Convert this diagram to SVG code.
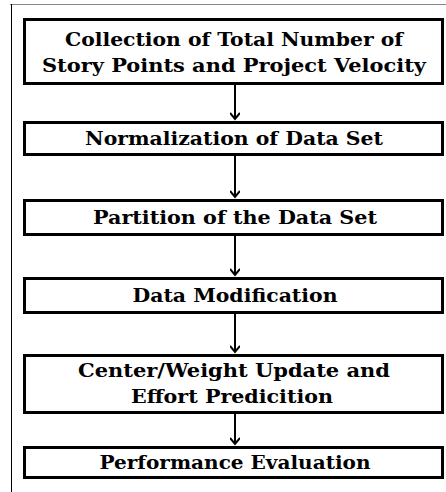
<svg xmlns="http://www.w3.org/2000/svg" width="446" height="492" viewBox="0 0 446 492">
<style>
.box{fill:#fff;stroke:#000;stroke-width:3}
.t{font-family:"DejaVu Serif","Liberation Serif",serif;font-weight:bold;font-size:18px;text-anchor:middle;fill:#000}
.c{stroke:#000;stroke-width:2;fill:none}
</style>
<defs>
<marker id="ah" markerWidth="10" markerHeight="10" refX="7" refY="5" orient="auto" markerUnits="userSpaceOnUse">
<path d="M1,0 L7,5 L1,10" fill="none" stroke="#000" stroke-width="2"/>
</marker>
</defs>
<rect width="446" height="492" fill="#fff"/>
<line x1="10" y1="4.5" x2="446" y2="4.5" stroke="#888" stroke-width="1"/>
<line x1="11.5" y1="4" x2="11.5" y2="492" stroke="#000" stroke-width="1"/>
<g id="connectors">
<line class="c" x1="235" y1="84" x2="235" y2="119" marker-end="url(#ah)"/>
<line class="c" x1="235" y1="155" x2="235" y2="197" marker-end="url(#ah)"/>
<line class="c" x1="235" y1="235" x2="235" y2="275" marker-end="url(#ah)"/>
<line class="c" x1="235" y1="313" x2="235" y2="352" marker-end="url(#ah)"/>
<line class="c" x1="235" y1="413" x2="235" y2="444" marker-end="url(#ah)"/>
</g>
<g id="n1"><rect class="box" x="24.5" y="19.5" width="418" height="64"/>
<text class="t" x="234" y="46" textLength="338" lengthAdjust="spacingAndGlyphs">Collection of Total Number of</text>
<text class="t" x="234" y="72" textLength="384" lengthAdjust="spacingAndGlyphs">Story Points and Project Velocity</text></g>
<g id="n2"><rect class="box" x="24.5" y="122.5" width="418" height="32"/>
<text class="t" x="234" y="145" textLength="298" lengthAdjust="spacingAndGlyphs">Normalization of Data Set</text></g>
<g id="n3"><rect class="box" x="24.5" y="200.5" width="418" height="34"/>
<text class="t" x="235" y="224" textLength="284" lengthAdjust="spacingAndGlyphs">Partition of the Data Set</text></g>
<g id="n4"><rect class="box" x="24.5" y="278.5" width="418" height="34"/>
<text class="t" x="235" y="302" textLength="205" lengthAdjust="spacingAndGlyphs">Data Modification</text></g>
<g id="n5"><rect class="box" x="24.5" y="355.5" width="418" height="57"/>
<text class="t" x="234" y="377" textLength="312" lengthAdjust="spacingAndGlyphs">Center/Weight Update and</text>
<text class="t" x="232" y="403" textLength="202" lengthAdjust="spacingAndGlyphs">Effort Predicition</text></g>
<g id="n6"><rect class="box" x="24.5" y="447.5" width="418" height="30"/>
<text class="t" x="235" y="469" textLength="271" lengthAdjust="spacingAndGlyphs">Performance Evaluation</text></g>
</svg>
